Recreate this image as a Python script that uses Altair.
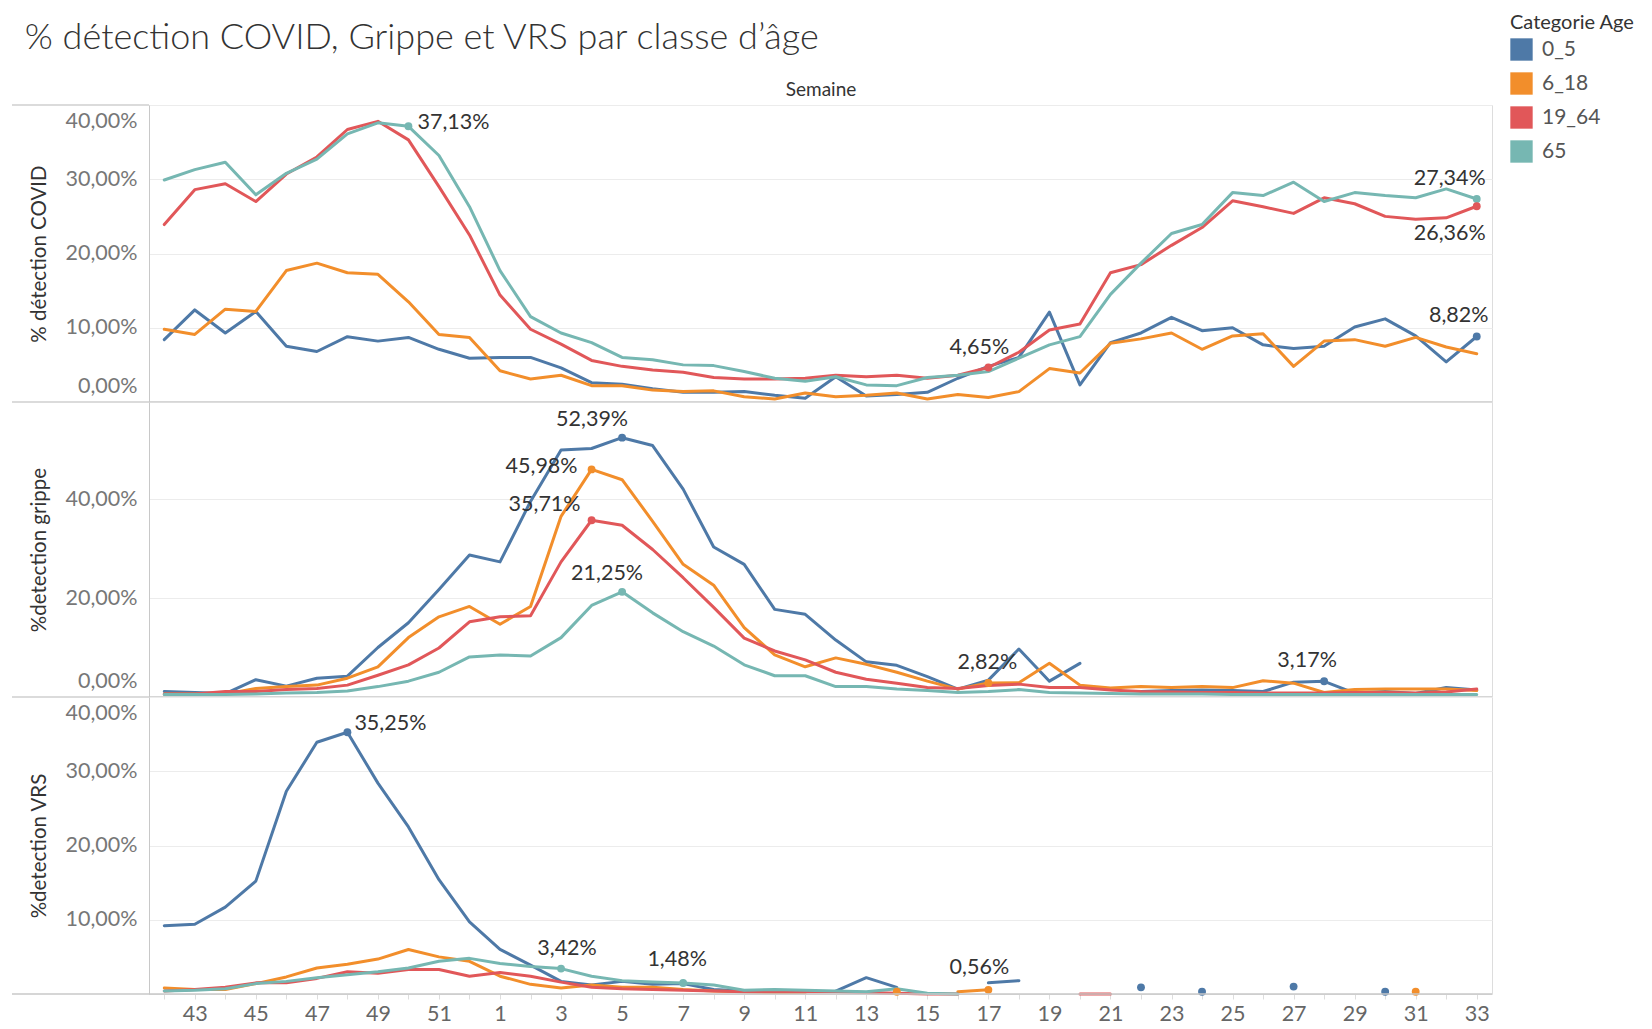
import altair as alt
import pandas as pd

# ---------------- data ----------------
weeks = list(range(42, 53)) + list(range(1, 34))          # 44 weeks, x index 0..43
groups = ["0_5", "6_18", "19_64", "65"]
group_colors = ["#4e79a7", "#f28e2b", "#e15759", "#76b7b2"]
panels = ["COVID", "Grippe", "VRS"]
panel_titles = ["% détection COVID", "%detection grippe", "%detection VRS"]

covid_0_5 = [8.4, 12.4, 9.3, 12.2, 7.5, 6.8, 8.8, 8.2, 8.7, 7.1,
             5.9, 6.0, 6.0, 4.6, 2.6, 2.4, 1.8, 1.3, 1.3, 1.4,
             0.9, 0.5, 3.4, 0.8, 1.0, 1.3, 3.2, 4.8, 6.0, 12.1,
             2.3, 8.0, 9.3, 11.4, 9.6, 10.0, 7.7, 7.2, 7.5, 10.1,
             11.2, 8.9, 5.4, 8.82]
covid_6_18 = [9.8, 9.1, 12.5, 12.2, 17.7, 18.7, 17.4, 17.2, 13.5, 9.1,
              8.7, 4.2, 3.1, 3.6, 2.2, 2.2, 1.6, 1.4, 1.5, 0.7,
              0.4, 1.2, 0.7, 0.9, 1.2, 0.4, 1.0, 0.6, 1.4, 4.5,
              3.9, 7.9, 8.5, 9.3, 7.1, 8.9, 9.2, 4.8, 8.2, 8.4,
              7.5, 8.7, 7.4, 6.5]
covid_19_64 = [23.9, 28.6, 29.4, 27.0, 30.7, 33.0, 36.7, 37.8, 35.3, 29.0,
               22.5, 14.4, 9.8, 7.8, 5.6, 4.8, 4.3, 4.0, 3.3, 3.1,
               3.1, 3.2, 3.6, 3.4, 3.6, 3.2, 3.6, 4.65, 6.7, 9.7,
               10.5, 17.4, 18.5, 21.1, 23.5, 27.1, 26.3, 25.4, 27.5, 26.7,
               25.0, 24.6, 24.8, 26.36]
covid_65 = [29.9, 31.3, 32.3, 27.9, 30.8, 32.7, 36.1, 37.6, 37.13, 33.2,
            26.3, 17.7, 11.5, 9.3, 8.0, 6.0, 5.7, 5.0, 4.9, 4.1,
            3.2, 2.8, 3.4, 2.3, 2.2, 3.3, 3.6, 4.1, 5.9, 7.7,
            8.8, 14.5, 18.7, 22.7, 23.9, 28.2, 27.8, 29.6, 27.0, 28.2,
            27.8, 27.5, 28.7, 27.34]

grippe_0_5 = [1.1, 0.9, 0.7, 3.5, 2.2, 3.8, 4.2, 10.0, 15.0, 21.7,
              28.7, 27.3, 39.5, 49.9, 50.2, 52.39, 50.8, 42.0, 30.3, 26.8,
              17.7, 16.7, 11.5, 7.1, 6.4, 4.1, 1.6, 3.4, 9.7, 3.2,
              6.8, None, 1.1, 1.3, 1.4, 1.3, 1.1, 3.0, 3.17, 0.8,
              1.1, 0.7, 1.9, 1.4]
grippe_6_18 = [0.6, 0.6, 0.6, 1.7, 2.1, 2.4, 3.8, 6.1, 12.0, 16.2,
               18.3, 14.7, 18.3, 36.5, 45.98, 43.9, 35.5, 26.8, 22.6, 14.0,
               8.5, 6.1, 7.9, 6.6, 5.0, 3.2, 1.6, 2.82, 2.9, 6.8,
               2.4, 1.8, 2.1, 1.9, 2.1, 1.9, 3.3, 2.8, 0.9, 1.5,
               1.6, 1.6, 1.6, 1.3]
grippe_19_64 = [0.6, 0.6, 1.1, 1.1, 1.5, 1.7, 2.4, 4.4, 6.5, 9.9,
                15.2, 16.2, 16.4, 27.3, 35.71, 34.7, 29.8, 24.1, 18.1, 11.9,
                9.3, 7.5, 5.0, 3.6, 2.8, 1.9, 1.7, 2.3, 2.6, 1.9,
                1.9, 1.4, 1.1, 1.0, 0.9, 0.9, 0.8, 0.8, 0.8, 0.9,
                0.9, 0.8, 1.0, 1.6]
grippe_65 = [0.5, 0.5, 0.5, 0.6, 0.8, 0.9, 1.2, 2.1, 3.2, 5.0,
             8.1, 8.5, 8.3, 12.0, 18.5, 21.25, 17.0, 13.2, 10.3, 6.5,
             4.3, 4.3, 2.1, 2.1, 1.6, 1.3, 0.9, 1.1, 1.5, 0.9,
             0.8, 0.7, 0.6, 0.6, 0.6, 0.5, 0.5, 0.5, 0.5, 0.5,
             0.5, 0.5, 0.5, 0.5]

vrs_0_5 = [9.2, 9.4, 11.7, 15.2, 27.3, 33.9, 35.25, 28.4, 22.5, 15.4,
           9.7, 6.0, 3.9, 1.7, 1.2, 1.7, 1.3, 1.4, 0.6, 0.4,
           0.4, None, 0.4, 2.2, 0.9, None, None, 1.5, 1.8, None,
           None, None, 0.9, None, 0.3, None, None, 1.0, None, None,
           0.3, None, None, None]
vrs_6_18 = [0.8, 0.6, 0.6, 1.4, 2.3, 3.5, 4.0, 4.7, 6.0, 5.0,
            4.4, 2.4, 1.3, 0.8, 1.2, 0.9, 0.9, 0.6, 0.4, 0.3,
            0.2, 0.2, None, None, 0.3, None, 0.3, 0.56, None, None,
            None, None, None, None, None, None, None, None, None, None,
            None, 0.3, None, None]
vrs_19_64 = [0.4, 0.6, 0.9, 1.5, 1.5, 2.1, 3.0, 2.8, 3.3, 3.3,
             2.4, 2.9, 2.4, 1.6, 0.9, 0.7, 0.6, 0.5, 0.4, 0.3,
             0.3, 0.3, 0.3, 0.2, 0.1, 0.0, 0.0, None, None, None,
             0.0, 0.0, None, None, None, None, None, None, None, None,
             None, None, None, None]
vrs_65 = [0.4, 0.5, 0.7, 1.4, 1.7, 2.2, 2.6, 3.0, 3.5, 4.4,
          4.8, 4.1, 3.7, 3.42, 2.4, 1.8, 1.6, 1.48, 1.2, 0.5,
          0.6, 0.5, 0.4, 0.3, 0.7, 0.1, 0.0, None, None, None,
          None, None, None, None, None, None, None, None, None, None,
          None, None, None, None]

series = {
    ("COVID", "0_5"): covid_0_5, ("COVID", "6_18"): covid_6_18,
    ("COVID", "19_64"): covid_19_64, ("COVID", "65"): covid_65,
    ("Grippe", "0_5"): grippe_0_5, ("Grippe", "6_18"): grippe_6_18,
    ("Grippe", "19_64"): grippe_19_64, ("Grippe", "65"): grippe_65,
    ("VRS", "0_5"): vrs_0_5, ("VRS", "6_18"): vrs_6_18,
    ("VRS", "19_64"): vrs_19_64, ("VRS", "65"): vrs_65,
}

# labelled points: (panel, group, x index)
annotations = [
    ("COVID", "65", 8), ("COVID", "19_64", 27), ("COVID", "65", 43),
    ("COVID", "19_64", 43), ("COVID", "0_5", 43),
    ("Grippe", "0_5", 15), ("Grippe", "6_18", 14), ("Grippe", "19_64", 14),
    ("Grippe", "65", 15), ("Grippe", "6_18", 27), ("Grippe", "0_5", 38),
    ("VRS", "0_5", 6), ("VRS", "65", 13), ("VRS", "65", 17), ("VRS", "6_18", 27),
]

# label placement style (align, dx, dy) for each annotation, same order
ann_style = [
    ("left", 9, -3), ("center", -9, -19), ("center", -27, -20),
    ("center", -27, 28), ("center", -18, -21),
    ("center", -30, -18), ("center", -50, -2), ("center", -47, -15),
    ("center", -15, -18), ("center", -1, -20), ("center", -17, -20),
    ("left", 7, -8), ("center", 6, -20), ("center", -6, -23), ("center", -9, -22),
]

# ---------------- tables ----------------
line_rows, point_rows = [], []
for (panel, group), vals in series.items():
    runs, run = [], []
    for i, v in enumerate(vals):
        if v is None:
            if run:
                runs.append(run)
            run = []
        else:
            run.append((i, v))
    if run:
        runs.append(run)
    for k, r in enumerate(runs):
        for i, v in r:
            row = dict(panel=panel, group=group, idx=i, value=v, seg=f"{group}-{k}")
            if len(r) == 1:
                point_rows.append(row)
            else:
                line_rows.append(row)

ann_rows = []
for (panel, group, i) in annotations:
    v = series[(panel, group)][i]
    ann_rows.append(dict(panel=panel, group=group, idx=i, value=v, seg="ann",
                         label=f"{v:.2f}".replace(".", ",") + "%"))
    point_rows.append(dict(panel=panel, group=group, idx=i, value=v, seg="ann"))

df_lines = pd.DataFrame(line_rows)
df_points = pd.DataFrame(point_rows)
df_ann = pd.DataFrame(ann_rows)

# ---------------- chart ----------------
FONT = "Lato"
W = 1343
BORDER = "#c8c8c8"
color_scale = alt.Scale(domain=groups, range=group_colors)
legend = alt.Legend(
    title="Categorie Age", orient="none", legendX=W + 18, legendY=-92, padding=0,
    symbolType="square", symbolSize=500, symbolStrokeWidth=0, symbolOpacity=1,
    labelFontSize=21, labelColor="#555", labelFont=FONT, labelOffset=9,
    titleFontSize=20, titleFontWeight="normal", titleColor="#333", titleFont=FONT,
    titlePadding=5, rowPadding=11,
)
yfmt = "replace(format(datum.value, '.2f'), '.', ',') + '%'"
xlab = ("datum.value <= 10 ? ((datum.value + 42) % 2 == 1 ? toString(datum.value + 42) : '')"
        " : ((datum.value - 10) % 2 == 1 ? toString(datum.value - 10) : '')")


def make_panel(p, title, ymax, yvals, h, pos):
    if pos == "top":
        xaxis = alt.Axis(orient="top", title="Semaine", labels=False, ticks=False,
                         domain=False, grid=False, titleFontSize=19, titleColor="#333",
                         titleFontWeight="normal", titleFont=FONT, titlePadding=6)
    elif pos == "bottom":
        xaxis = alt.Axis(orient="bottom", title=None, values=list(range(44)), labelExpr=xlab,
                         tickSize=5, tickColor="#dddddd", domain=False, grid=False,
                         labelFontSize=21.5, labelColor="#666", labelFont=FONT,
                         labelPadding=4, labelOverlap=False, labelFlush=False)
    else:
        xaxis = None
    x = alt.X("idx:Q", scale=alt.Scale(domain=[-0.5, 43.5], nice=False, zero=False), axis=xaxis)
    y = alt.Y("value:Q", scale=alt.Scale(domain=[0, ymax], nice=False, zero=True),
              axis=alt.Axis(values=yvals, labelExpr=yfmt, title=title, grid=True,
                            gridColor="#ececec", gridWidth=1, domain=True,
                            domainColor=BORDER, domainWidth=1, ticks=False,
                            labelFontSize=21.5, labelColor="#777", labelFont=FONT,
                            labelPadding=12, labelFlush=True, labelFlushOffset=-5,
                            titleFontSize=20.5, titleColor="#333", titleFontWeight="normal",
                            titleFont=FONT, titlePadding=16))
    dl = df_lines[df_lines.panel == p]
    dp = df_points[df_points.panel == p]
    color = alt.Color("group:N", scale=color_scale, legend=legend)
    legend_src = alt.Chart(dp).mark_square(filled=True, opacity=0, size=1).encode(
        x=x, y=y, color=color)
    lines = alt.Chart(dl).mark_line(strokeWidth=3, strokeJoin="round", strokeCap="round").encode(
        x=x, y=y, color=color, detail="seg:N")
    pts = alt.Chart(dp).mark_point(filled=True, size=62, opacity=1).encode(
        x=x, y=y, color=color)
    sep = pd.DataFrame({"s": [0]})
    layers = [legend_src,
              alt.Chart(sep).mark_rule(color="#cfcfcf", strokeWidth=1.5).encode(
                  x=alt.value(-137), x2=alt.value(0), y=alt.value(0)),
              lines, pts]
    # pane bottom border drawn over the lines (as in the reference)
    layers.append(alt.Chart(sep).mark_rule(color=BORDER, strokeWidth=1.5).encode(
        x=alt.value(-137 if pos == "bottom" else 0), x2=alt.value(W), y=alt.value(h)))
    for (ap, ag, ai), (al, dx, dy) in zip(annotations, ann_style):
        if ap != p:
            continue
        da = df_ann[(df_ann.panel == ap) & (df_ann.group == ag) & (df_ann.idx == ai)]
        layers.append(alt.Chart(da).mark_text(align=al, baseline="middle", dx=dx, dy=dy,
                                              fontSize=21.5, font=FONT, color="#333").encode(
            x=x, y=y, text="label:N"))
    return alt.layer(*layers).properties(width=W, height=h)


top = make_panel("COVID", panel_titles[0], 40, [0, 10, 20, 30, 40], 297, "top")
mid = make_panel("Grippe", panel_titles[1], 59.6, [0, 20, 40], 295, "mid")
bot = make_panel("VRS", panel_titles[2], 40, [10, 20, 30, 40], 297, "bottom")

chart = alt.vconcat(top, mid, bot, spacing=0, bounds="flush").properties(
    title=alt.TitleParams("% détection COVID, Grippe et VRS par classe d’âge", anchor="start",
                          fontSize=36, font=FONT, fontWeight=300, color="#333",
                          dx=14, offset=-44, frame="bounds"),
    padding={"left": 2, "top": 5, "right": 6, "bottom": 0},
).resolve_scale(color="shared").configure_view(stroke=BORDER, strokeWidth=1.5).configure(
    font=FONT, background="white")

chart.save("out.html", embed_options={"renderer": "svg", "actions": False})
